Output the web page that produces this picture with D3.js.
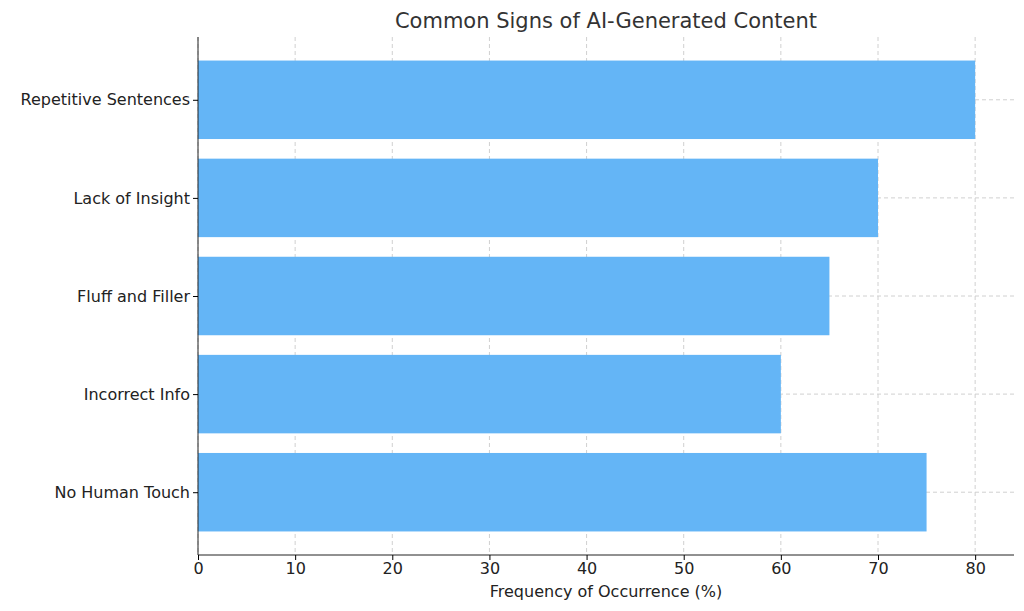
<!DOCTYPE html>
<html><head><meta charset="utf-8">
<script src="https://cdn.jsdelivr.net/npm/d3@7"></script>
<style>body{margin:0;background:#fff;font-family:"DejaVu Sans",sans-serif;}</style>
</head><body><svg id="chart" width="1024" height="611"></svg>
<script>
// chart data
var categories = ["Repetitive Sentences", "Lack of Insight", "Fluff and Filler", "Incorrect Info", "No Human Touch"];
var values = [80, 70, 65, 60, 75];
var xTicks = [0, 10, 20, 30, 40, 50, 60, 70, 80];

var svg = d3.select("#chart");
var plotLeft = 198, plotRight = 1014, plotTop = 37, plotBottom = 555;

var x = d3.scaleLinear().domain([0, 84]).range([plotLeft, plotRight]);
// matplotlib style: bar height 0.8, margins 0.05
var y = d3.scaleLinear().domain([-0.64, 4.64]).range([plotTop, plotBottom]);

// grid
svg.append("g").selectAll("line").data(xTicks).enter().append("line")
  .attr("x1", d => x(d)).attr("x2", d => x(d)).attr("y1", plotTop).attr("y2", plotBottom)
  .attr("stroke", "#d0d0d0").attr("stroke-dasharray", "4,3");
svg.append("g").selectAll("line").data(categories).enter().append("line")
  .attr("x1", plotLeft).attr("x2", plotRight).attr("y1", (d, i) => y(i)).attr("y2", (d, i) => y(i))
  .attr("stroke", "#d0d0d0").attr("stroke-dasharray", "4,3");

// bars
svg.append("g").selectAll("rect").data(values).enter().append("rect")
  .attr("x", x(0)).attr("width", d => x(d) - x(0))
  .attr("y", (d, i) => y(i - 0.4)).attr("height", y(0.4) - y(-0.4))
  .attr("fill", "#64b5f6");

// axes
var xAxis = svg.append("g").attr("transform", "translate(0," + plotBottom + ")")
  .call(d3.axisBottom(x).tickValues(xTicks).tickSize(5).tickSizeOuter(0));
xAxis.select(".domain").attr("d", "M" + plotLeft + ",0H" + plotRight).attr("stroke", "#222");
xAxis.selectAll("text").attr("font-size", 16).attr("fill", "#222").attr("font-family", "DejaVu Sans");

var yAxis = svg.append("g").attr("transform", "translate(" + plotLeft + ",0)")
  .call(d3.axisLeft(y).tickValues([0, 1, 2, 3, 4]).tickFormat(i => categories[i]).tickSize(5).tickSizeOuter(0));
yAxis.select(".domain").attr("d", "M0," + plotTop + "V" + plotBottom).attr("stroke", "#222");
yAxis.selectAll("text").attr("font-size", 16).attr("fill", "#222").attr("font-family", "DejaVu Sans");

svg.append("text").attr("x", (plotLeft + plotRight) / 2).attr("y", 28).attr("text-anchor", "middle")
  .attr("font-size", 21).attr("fill", "#333").text("Common Signs of AI-Generated Content");
svg.append("text").attr("x", (plotLeft + plotRight) / 2).attr("y", 597).attr("text-anchor", "middle")
  .attr("font-size", 16).attr("fill", "#222").text("Frequency of Occurrence (%)");
</script></body></html>
